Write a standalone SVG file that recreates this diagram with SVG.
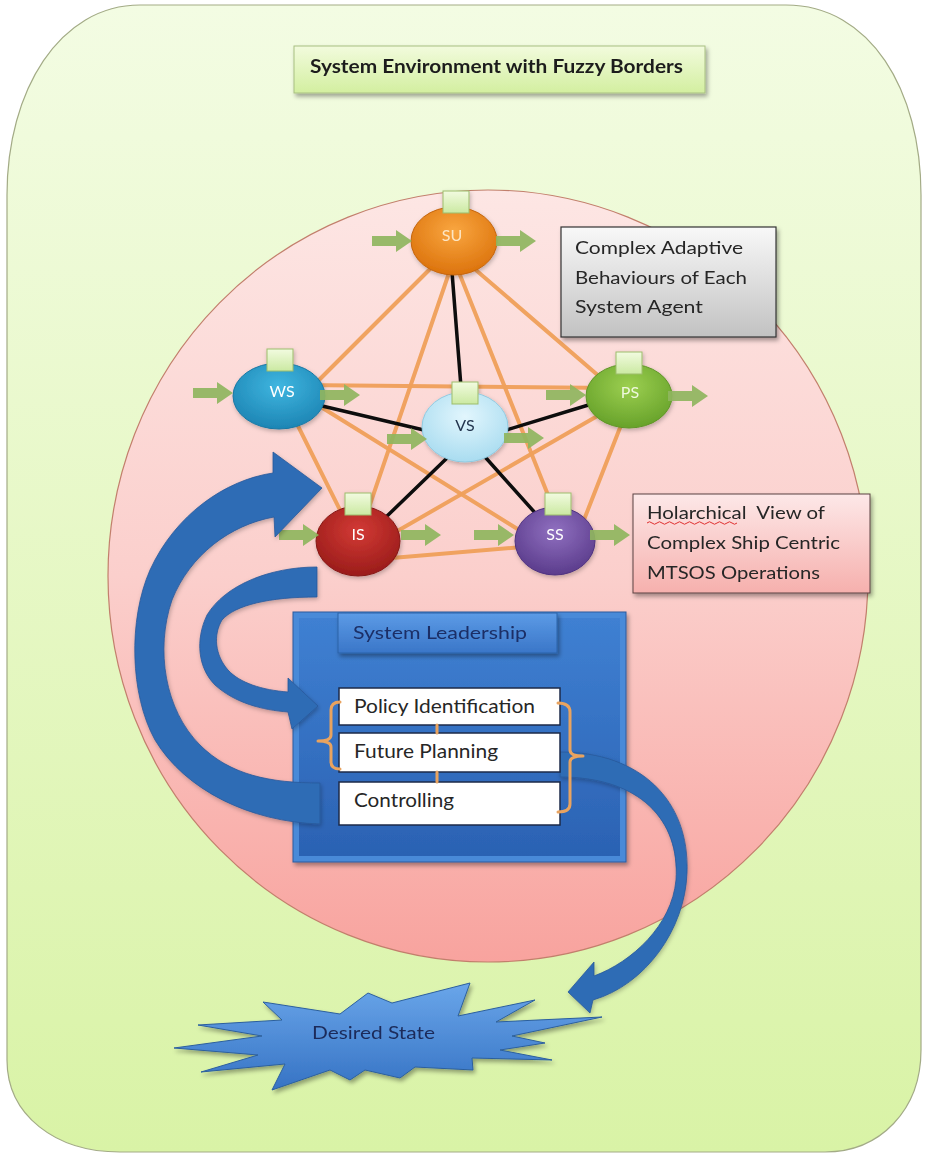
<svg xmlns="http://www.w3.org/2000/svg" width="926" height="1157" viewBox="0 0 926 1157">
  <defs>
    <linearGradient id="gEnv" x1="0" y1="0" x2="0" y2="1">
      <stop offset="0" stop-color="#f3fce3"/>
      <stop offset="1" stop-color="#d9f3a6"/>
    </linearGradient>
    <linearGradient id="gPink" x1="0" y1="0" x2="0" y2="1">
      <stop offset="0" stop-color="#fde6e4"/>
      <stop offset="0.5" stop-color="#fbcfcc"/>
      <stop offset="1" stop-color="#f8a39e"/>
    </linearGradient>
    <linearGradient id="gTitle" x1="0" y1="0" x2="0" y2="1">
      <stop offset="0" stop-color="#f2fbdd"/>
      <stop offset="1" stop-color="#d3efa0"/>
    </linearGradient>
    <linearGradient id="gGray" x1="0" y1="0" x2="0" y2="1">
      <stop offset="0" stop-color="#f8f8f8"/>
      <stop offset="1" stop-color="#c2c2c2"/>
    </linearGradient>
    <linearGradient id="gPinkBox" x1="0" y1="0" x2="0" y2="1">
      <stop offset="0" stop-color="#fde8e8"/>
      <stop offset="1" stop-color="#f6b0ad"/>
    </linearGradient>
    <linearGradient id="gLead" x1="0" y1="0" x2="0" y2="1">
      <stop offset="0" stop-color="#3f80d2"/>
      <stop offset="1" stop-color="#2b62b3"/>
    </linearGradient>
    <linearGradient id="gHead" x1="0" y1="0" x2="0" y2="1">
      <stop offset="0" stop-color="#5c9be6"/>
      <stop offset="1" stop-color="#3a76c8"/>
    </linearGradient>
    <linearGradient id="gStar" x1="0" y1="0" x2="0" y2="1">
      <stop offset="0" stop-color="#6aa6ea"/>
      <stop offset="1" stop-color="#3673c4"/>
    </linearGradient>
    <linearGradient id="gSq" x1="0" y1="0" x2="0" y2="1">
      <stop offset="0" stop-color="#f2fbe0"/>
      <stop offset="1" stop-color="#cbe9a2"/>
    </linearGradient>
    <radialGradient id="gSU" cx="0.5" cy="0.35" r="0.65">
      <stop offset="0" stop-color="#f9a640"/>
      <stop offset="1" stop-color="#dc730c"/>
    </radialGradient>
    <radialGradient id="gWS" cx="0.5" cy="0.35" r="0.65">
      <stop offset="0" stop-color="#3fb6e0"/>
      <stop offset="1" stop-color="#1d85b4"/>
    </radialGradient>
    <radialGradient id="gVS" cx="0.5" cy="0.35" r="0.65">
      <stop offset="0" stop-color="#e2f6fd"/>
      <stop offset="1" stop-color="#a9dcf0"/>
    </radialGradient>
    <radialGradient id="gPS" cx="0.5" cy="0.35" r="0.65">
      <stop offset="0" stop-color="#9ccf50"/>
      <stop offset="1" stop-color="#67a22a"/>
    </radialGradient>
    <radialGradient id="gIS" cx="0.5" cy="0.35" r="0.65">
      <stop offset="0" stop-color="#d33a35"/>
      <stop offset="1" stop-color="#9a1c1a"/>
    </radialGradient>
    <radialGradient id="gSS" cx="0.5" cy="0.35" r="0.65">
      <stop offset="0" stop-color="#9070c0"/>
      <stop offset="1" stop-color="#5b3c8c"/>
    </radialGradient>
    <filter id="sh" x="-10%" y="-10%" width="130%" height="140%">
      <feDropShadow dx="2" dy="3" stdDeviation="2" flood-color="#000" flood-opacity="0.35"/>
    </filter>
    <filter id="shSoft" x="-10%" y="-10%" width="130%" height="130%">
      <feDropShadow dx="1" dy="2" stdDeviation="2" flood-color="#000" flood-opacity="0.25"/>
    </filter>
    <path id="garrow" d="M0,-5 H24 V-11 L40,0 L24,11 V5 H0 Z"/>
    <rect id="tag" width="26" height="22"/>
    <style>
      .txt { font-family: Lato, "Open Sans", "Liberation Sans", sans-serif; }
      .node { stroke-width: 1; }
      .lbl { font-family: Lato, "Open Sans", "Liberation Sans", sans-serif; font-size: 16px; fill: #ffffff; text-anchor: middle; }
      .tag { fill: url(#gSq); stroke: #9dbd6c; stroke-width: 1; }
      .ga { fill: #8fb55e; opacity: 0.92; }
      .oe { stroke: #f0a05a; stroke-width: 4; stroke-linecap: round; opacity: 0.95; }
      .be { stroke: #0d0d0d; stroke-width: 3.5; stroke-linecap: round; }
      .blue { fill: #2f6cb5; stroke: #28599a; stroke-width: 0.8; }
      .wbox { fill: #ffffff; stroke: #1c2a48; stroke-width: 1.5; }
      .wtxt { font-size: 19px; fill: #262626; }
      .btxt { font-size: 18px; fill: #262626; }
      .brk { fill: none; stroke: #e9a35f; stroke-width: 3; stroke-linecap: round; stroke-linejoin: round; }
    </style>
  </defs>

  <!-- environment frame -->
  <g id="environment">
    <path d="M140,5 H786 C870,5 921,90 921,195 V1050 C921,1110 880,1152 825,1152 H120 C55,1152 7,1115 7,1060 V195 C7,90 60,5 140,5 Z" fill="url(#gEnv)" stroke="#a3ab86" stroke-width="1.2"/>
  </g>

  <g id="title" filter="url(#sh)">
    <rect x="294" y="46" width="411" height="47" fill="url(#gTitle)" stroke="#a8bf82" stroke-width="1"/>
    <text class="txt" x="310" y="73" font-size="19" font-weight="bold" fill="#1e1e1e" textLength="373" lengthAdjust="spacingAndGlyphs">System Environment with Fuzzy Borders</text>
  </g>

  <!-- system boundary -->
  <g id="system-boundary">
    <ellipse cx="488" cy="576" rx="380" ry="386" fill="url(#gPink)" stroke="#c27f6c" stroke-width="1.2"/>
  </g>

  <!-- links between agents -->
  <g id="connectors">
    <line class="oe" x1="440" y1="259" x2="310" y2="389"/>
    <line class="oe" x1="450" y1="270" x2="363" y2="525"/>
    <line class="oe" x1="458" y1="270" x2="560" y2="525"/>
    <line class="oe" x1="470" y1="265" x2="615" y2="390"/>
    <line class="oe" x1="300" y1="385" x2="615" y2="388"/>
    <line class="oe" x1="290" y1="410" x2="345" y2="520"/>
    <line class="oe" x1="300" y1="394" x2="545" y2="546"/>
    <line class="oe" x1="620" y1="403" x2="380" y2="541"/>
    <line class="oe" x1="625" y1="415" x2="580" y2="530"/>
    <line class="oe" x1="380" y1="559" x2="535" y2="546"/>
    <line class="be" x1="452" y1="272" x2="462" y2="400"/>
    <line class="be" x1="318" y1="405" x2="428" y2="431"/>
    <line class="be" x1="503" y1="431" x2="595" y2="403"/>
    <line class="be" x1="446" y1="459" x2="385" y2="518"/>
    <line class="be" x1="486" y1="458" x2="537" y2="515"/>
  </g>

  <!-- system agents -->
  <g id="node-SU" filter="url(#shSoft)">
    <ellipse class="node" cx="454" cy="241" rx="43" ry="34" fill="url(#gSU)" stroke="#c4650c"/>
    <use href="#tag" class="tag" x="443" y="191"/>
    <text class="lbl" x="452" y="241" style="fill:#fde6c4">SU</text>
  </g>
  <g id="node-WS" filter="url(#shSoft)">
    <ellipse class="node" cx="279" cy="396" rx="46" ry="33" fill="url(#gWS)" stroke="#1a78a4"/>
    <use href="#tag" class="tag" x="267" y="349"/>
    <text class="lbl" x="282" y="397">WS</text>
  </g>
  <g id="node-PS" filter="url(#shSoft)">
    <ellipse class="node" cx="629" cy="396" rx="43" ry="32" fill="url(#gPS)" stroke="#5e9526"/>
    <use href="#tag" class="tag" x="616" y="352"/>
    <text class="lbl" x="630" y="398" style="fill:#eef8dc">PS</text>
  </g>
  <g id="node-VS" filter="url(#shSoft)">
    <ellipse class="node" cx="465" cy="427" rx="43" ry="35" fill="url(#gVS)" stroke="#8fcbe2"/>
    <use href="#tag" class="tag" x="452" y="382"/>
    <text class="lbl" x="465" y="431" style="fill:#24364f">VS</text>
  </g>
  <g id="node-IS" filter="url(#shSoft)">
    <ellipse class="node" cx="358" cy="541" rx="42" ry="35" fill="url(#gIS)" stroke="#861815"/>
    <use href="#tag" class="tag" x="345" y="493"/>
    <text class="lbl" x="358" y="540">IS</text>
  </g>
  <g id="node-SS" filter="url(#shSoft)">
    <ellipse class="node" cx="555" cy="541" rx="40" ry="34" fill="url(#gSS)" stroke="#4f3380"/>
    <use href="#tag" class="tag" x="545" y="493"/>
    <text class="lbl" x="555" y="540">SS</text>
  </g>

  <!-- inputs and outputs of each agent -->
  <g id="agent-flows">
    <use href="#garrow" class="ga" x="372" y="241"/>
    <use href="#garrow" class="ga" x="496" y="241"/>
    <use href="#garrow" class="ga" x="193" y="393"/>
    <use href="#garrow" class="ga" x="320" y="395"/>
    <use href="#garrow" class="ga" x="546" y="395"/>
    <use href="#garrow" class="ga" x="668" y="396"/>
    <use href="#garrow" class="ga" x="387" y="439"/>
    <use href="#garrow" class="ga" x="504" y="438"/>
    <use href="#garrow" class="ga" x="279" y="535"/>
    <use href="#garrow" class="ga" x="401" y="535"/>
    <use href="#garrow" class="ga" x="474" y="535"/>
    <use href="#garrow" class="ga" x="590" y="535"/>
  </g>

  <g id="note-behaviours" filter="url(#sh)">
    <rect x="561" y="227" width="215" height="110" fill="url(#gGray)" stroke="#333333" stroke-width="1.2"/>
    <text class="txt btxt" x="575" y="254" textLength="168" lengthAdjust="spacingAndGlyphs">Complex Adaptive</text>
    <text class="txt btxt" x="575" y="284" textLength="172" lengthAdjust="spacingAndGlyphs">Behaviours of Each</text>
    <text class="txt btxt" x="575" y="313" textLength="128" lengthAdjust="spacingAndGlyphs">System Agent</text>
  </g>

  <g id="note-holarchical" filter="url(#sh)">
    <rect x="633" y="494" width="237" height="99" fill="url(#gPinkBox)" stroke="#5a4040" stroke-width="1"/>
    <text class="txt btxt" x="647" y="519" textLength="178" lengthAdjust="spacingAndGlyphs">Holarchical&#160; View of</text>
    <path d="M647,523 q2.5,-2.5 5,0 t5,0 t5,0 t5,0 t5,0 t5,0 t5,0 t5,0 t5,0 t5,0 t5,0 t5,0 t5,0 t5,0 t5,0 t5,0 t5,0 t5,0" fill="none" stroke="#e03030" stroke-width="1"/>
    <text class="txt btxt" x="647" y="549" textLength="193" lengthAdjust="spacingAndGlyphs">Complex Ship Centric</text>
    <text class="txt btxt" x="647" y="579" textLength="173" lengthAdjust="spacingAndGlyphs">MTSOS Operations</text>
  </g>

  <!-- leadership panel -->
  <g id="leadership" filter="url(#sh)">
    <rect x="293" y="612" width="333" height="250" fill="#4a8ad8" stroke="#2a5a9e" stroke-width="1"/>
    <rect x="299" y="618" width="321" height="238" fill="url(#gLead)"/>
  </g>
  <g id="leadership-header" filter="url(#sh)">
    <rect x="338" y="613" width="219" height="40" fill="url(#gHead)" stroke="#2d62a8" stroke-width="1"/>
    <text class="txt" x="353" y="639" font-size="18" fill="#1b2f66" textLength="174" lengthAdjust="spacingAndGlyphs">System Leadership</text>
  </g>

  <!-- feedback arrows -->
  <g id="feedback-arrows" filter="url(#shSoft)">
    <path id="arrow-outcome" class="blue" d="M560,752 C640,752 690,800 687,873 C685,930 645,985 593,1000 L590,1013 L568,992 L594,962 L594,976 C632,962 672,925 676,880 C680,820 640,777 560,777 Z"/>
    <path id="arrow-loop" class="blue" d="M320,824 C250,822 185,790 155,740 C130,695 128,620 150,570 C175,515 225,480 273,473 L273,452 L322,488 L275,537 L274,517 C230,525 190,555 172,600 C155,650 165,710 200,745 C230,775 270,783 320,783 Z"/>
    <path id="arrow-policy" class="blue" d="M317,567 C270,567 225,585 207,615 C195,640 198,668 215,685 C235,703 262,710 288,712 L292,729 L318,706 L288,678 L288,692 C262,690 240,683 228,670 C215,655 213,635 222,620 C235,605 270,597 317,597 Z"/>
  </g>

  <!-- leadership functions -->
  <g id="fn-policy">
    <rect class="wbox" x="339" y="688" width="221" height="37"/>
    <text class="txt wtxt" x="354" y="713" textLength="181" lengthAdjust="spacingAndGlyphs">Policy Identification</text>
  </g>
  <g id="fn-planning">
    <rect class="wbox" x="339" y="733" width="221" height="39"/>
    <text class="txt wtxt" x="354" y="758" textLength="144" lengthAdjust="spacingAndGlyphs">Future Planning</text>
  </g>
  <g id="fn-controlling">
    <rect class="wbox" x="339" y="782" width="221" height="43"/>
    <text class="txt wtxt" x="354" y="807" textLength="100" lengthAdjust="spacingAndGlyphs">Controlling</text>
  </g>
  <g id="fn-links">
    <line class="brk" x1="437" y1="725" x2="437" y2="733"/>
    <line class="brk" x1="437" y1="772" x2="437" y2="782"/>
    <path class="brk" d="M340,702 Q331,702 331,710 L331,735 Q331,741 318,741 Q331,741 331,747 L331,762 Q331,769 340,769"/>
    <path class="brk" d="M558,703 Q570,703 570,712 L570,750 Q570,756 583,756 Q570,756 570,762 L570,804 Q570,812 558,812"/>
  </g>

  <!-- goal -->
  <g id="desired-state" filter="url(#sh)">
    <polygon points="174,1048 262,1036 198,1025 282,1020 263,1002 340,1014 368,993 392,1003 470,983 458,1016 535,1000 496,1022 602,1017 512,1036 545,1043 500,1050 552,1060 472,1058 473,1070 415,1067 400,1078 365,1070 350,1080 330,1070 272,1090 285,1064 201,1072 258,1055" fill="url(#gStar)" stroke="#2c5f9e" stroke-width="1" stroke-linejoin="miter"/>
    <text class="txt" x="312" y="1039" font-size="17" fill="#1c2b5a" textLength="123" lengthAdjust="spacingAndGlyphs">Desired State</text>
  </g>
</svg>
